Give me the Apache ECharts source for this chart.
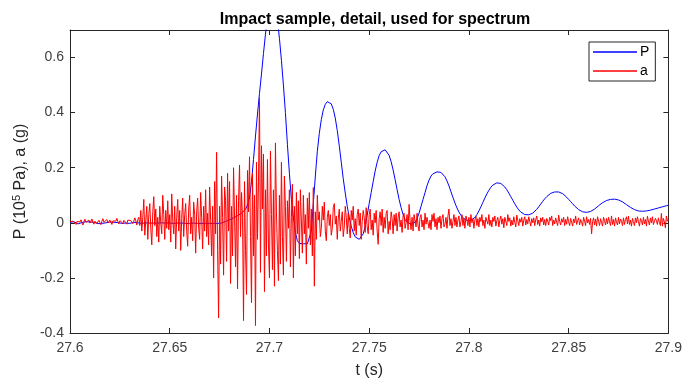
<!DOCTYPE html>
<html>
<head>
<meta charset="utf-8">
<script src="https://cdn.jsdelivr.net/npm/echarts@6/dist/echarts.min.js"></script>
<style>
html,body{margin:0;padding:0;background:#fff;}
#chart{width:685px;height:384px;}
</style>
</head>
<body>
<div id="chart"></div>
<script>
// ---- data ----
var titleText = 'Impact sample, detail, used for spectrum';
var xTicks = [27.6, 27.65, 27.7, 27.75, 27.8, 27.85, 27.9];
var yTicks = [-0.4, -0.2, 0, 0.2, 0.4, 0.6];
var xRange = [27.6, 27.9];
var yRange = [-0.4, 0.7];

// P: pressure, sampled every 1 ms from 27.600 s
var pStart = 27.6, pStep = 0.001;
var pValues = [
 0.002,-0.003,0.004,0.000,-0.004,0.003,0.001,-0.002,0.004,-0.001,
 0.003,-0.004,0.002,0.001,-0.003,0.004,-0.002,0.002,0.000,-0.003,
 0.003,-0.001,0.002,-0.003,0.001,0.003,-0.002,0.001,-0.001,0.002,
 -0.002,0.001,0.002,-0.001,0.000,0.001,-0.002,0.001,0.000,-0.001,
 -0.001,0.000,-0.001,0.000,-0.001,-0.001,0.000,-0.001,-0.001,-0.001,
 -0.001,-0.001,-0.002,-0.001,-0.001,-0.002,-0.001,-0.002,-0.002,-0.001,
 -0.002,-0.002,-0.001,-0.002,-0.002,-0.002,-0.002,-0.001,-0.002,-0.002,
 -0.002,-0.002,-0.002,-0.002,-0.002,-0.001,-0.001,0.002,0.005,0.008,
 0.011,0.014,0.018,0.022,0.026,0.030,0.035,0.041,0.049,0.065,
 0.090,0.150,0.230,0.315,0.395,0.470,0.540,0.615,0.685,0.745,
 0.790,0.810,0.805,0.780,0.735,0.670,0.590,0.500,0.400,0.285,
 0.180,0.085,0.020,-0.035,-0.065,-0.075,-0.076,-0.076,-0.076,-0.076,
 -0.075,-0.030,0.070,0.170,0.260,0.325,0.375,0.410,0.430,0.440,
 0.440,0.432,0.412,0.380,0.335,0.280,0.220,0.160,0.108,0.060,
 0.020,-0.012,-0.036,-0.051,-0.058,-0.060,-0.055,-0.040,-0.012,0.028,
 0.070,0.110,0.150,0.188,0.220,0.244,0.258,0.265,0.265,0.259,
 0.245,0.222,0.192,0.157,0.120,0.085,0.055,0.030,0.012,0.002,
 -0.003,-0.005,-0.004,0.002,0.015,0.035,0.060,0.085,0.110,0.135,
 0.155,0.170,0.178,0.183,0.185,0.185,0.183,0.177,0.167,0.152,
 0.134,0.113,0.092,0.072,0.054,0.039,0.027,0.018,0.012,0.009,
 0.008,0.009,0.013,0.020,0.030,0.043,0.058,0.074,0.090,0.105,
 0.118,0.129,0.137,0.142,0.145,0.145,0.143,0.138,0.130,0.120,
 0.108,0.095,0.082,0.069,0.057,0.047,0.039,0.033,0.030,0.029,
 0.029,0.031,0.035,0.041,0.049,0.058,0.068,0.078,0.087,0.095,
 0.102,0.107,0.110,0.112,0.113,0.112,0.110,0.106,0.100,0.093,
 0.085,0.077,0.069,0.061,0.054,0.048,0.043,0.040,0.038,0.038,
 0.039,0.041,0.045,0.050,0.056,0.062,0.068,0.073,0.078,0.081,
 0.084,0.085,0.086,0.086,0.085,0.083,0.080,0.076,0.071,0.066,
 0.061,0.056,0.052,0.048,0.045,0.043,0.042,0.042,0.042,0.043,
 0.044,0.046,0.048,0.050,0.052,0.054,0.056,0.058,0.060,0.062,
 0.064
];

// a: acceleration, sampled every 0.5 ms from 27.600 s
var aStart = 27.6, aStep = 0.0005;
var aValues = [
 0.004,0.010,-0.003,0.006,0.012,0.001,-0.006,0.005,0.009,-0.002,
 0.003,0.011,0.000,-0.008,0.004,0.013,0.002,-0.004,0.007,0.010,
 -0.001,0.005,0.014,0.003,-0.005,0.006,0.011,-0.002,0.004,0.009,
 0.001,-0.007,0.006,0.015,0.002,-0.003,0.008,0.012,-0.001,0.005,
 0.010,0.003,-0.006,0.007,0.013,0.000,0.006,0.016,0.004,-0.004,
 0.008,0.012,0.002,-0.002,0.009,0.014,0.005,-0.005,0.010,0.017,
 0.003,0.008,0.015,-0.003,0.006,0.018,0.007,-0.008,0.012,0.020,
 -0.010,0.045,-0.030,0.020,0.085,-0.045,0.010,0.060,-0.060,0.030,
 0.070,-0.020,-0.080,0.040,0.095,-0.010,0.050,-0.050,0.020,-0.070,
 0.060,0.000,-0.040,0.100,0.030,-0.060,0.045,-0.020,0.080,-0.025,
 0.030,-0.070,0.105,0.010,-0.040,0.060,-0.095,0.020,0.085,-0.030,
 0.045,-0.100,0.015,0.090,-0.050,0.030,0.070,-0.030,-0.085,0.050,
 0.100,-0.040,0.020,-0.065,0.075,0.030,-0.110,0.040,0.090,-0.020,
 -0.060,0.110,0.020,-0.095,0.060,-0.030,0.120,-0.050,0.035,-0.080,
 0.130,0.010,-0.120,0.060,-0.200,0.150,-0.040,0.256,-0.100,-0.345,
 0.060,-0.150,0.170,0.020,-0.190,0.130,0.080,-0.140,0.180,-0.030,
 0.150,-0.220,0.060,-0.120,0.200,0.020,-0.160,0.100,-0.240,0.080,
 0.210,-0.050,0.110,0.020,-0.355,0.150,-0.100,-0.260,0.190,0.040,
 0.240,-0.050,-0.290,0.180,-0.120,0.100,-0.373,0.220,-0.060,0.150,
 0.454,-0.180,0.280,0.050,0.250,-0.250,0.120,-0.120,0.230,-0.080,
 -0.200,0.260,0.030,-0.170,0.120,-0.230,0.290,0.040,-0.100,-0.210,
 0.100,-0.150,0.220,-0.050,-0.190,0.170,0.060,-0.140,0.080,-0.020,
 0.120,-0.160,0.020,0.140,-0.200,0.060,-0.120,0.110,-0.040,0.080,
 -0.130,0.120,0.010,-0.110,0.100,-0.040,0.030,-0.150,0.090,-0.020,
 0.110,-0.080,0.050,-0.120,0.128,-0.230,0.040,-0.060,0.100,0.010,
 0.040,-0.050,-0.020,0.060,0.010,0.075,-0.030,-0.065,0.020,0.045,
 -0.010,0.030,-0.045,-0.020,0.055,0.070,-0.005,0.025,-0.060,0.015,
 0.050,-0.030,0.005,0.040,-0.050,-0.015,0.060,0.020,-0.040,0.035,
 -0.020,-0.055,0.045,0.010,0.060,-0.030,0.015,-0.045,0.030,0.050,
 -0.010,0.035,-0.060,0.005,0.045,0.020,-0.035,0.055,-0.015,-0.040,
 0.030,0.050,-0.025,0.010,-0.045,0.035,0.000,0.045,-0.030,-0.078,
 0.015,0.040,-0.010,0.050,-0.035,0.020,-0.020,0.035,0.045,-0.040,
 0.005,-0.025,0.040,0.015,-0.040,0.030,-0.010,0.035,-0.030,0.020,
 0.040,-0.015,0.010,-0.035,0.025,0.035,-0.020,0.000,0.030,-0.025,
 0.067,0.010,-0.025,0.020,-0.030,0.030,0.005,-0.015,0.035,-0.010,
 -0.030,0.020,0.030,-0.015,0.010,-0.025,0.035,-0.005,0.020,0.025,
 -0.020,0.010,-0.025,0.030,0.005,0.035,-0.015,0.015,-0.025,0.020,
 0.000,0.025,-0.020,0.015,0.030,-0.015,-0.005,0.020,-0.020,0.025,
 0.050,-0.010,0.015,-0.020,0.005,0.030,-0.010,0.020,-0.015,0.010,
 0.025,-0.015,0.005,0.030,-0.010,0.015,-0.020,0.025,0.010,-0.010,
 0.020,-0.015,0.030,0.000,0.015,-0.020,0.010,0.025,-0.010,0.015,
 -0.015,0.020,0.005,0.030,-0.010,0.010,-0.020,0.020,0.015,-0.005,
 0.030,-0.010,0.010,-0.015,0.020,0.005,0.025,-0.012,0.008,0.020,
 -0.015,0.010,0.025,-0.005,0.015,-0.018,0.020,0.005,-0.010,0.030,
 0.005,0.018,-0.012,0.010,-0.008,0.022,0.002,-0.015,0.028,0.008,
 -0.010,0.015,0.002,0.020,-0.012,0.010,0.022,-0.008,0.012,-0.004,
 0.022,0.005,-0.012,0.015,0.000,0.018,-0.010,0.012,0.025,-0.006,
 0.010,-0.012,0.018,0.004,0.020,-0.008,0.012,-0.010,0.016,0.006,
 -0.008,0.020,0.008,0.025,-0.010,0.010,-0.004,0.018,0.002,-0.010,
 0.028,0.005,-0.008,0.015,0.002,0.020,-0.010,0.012,-0.005,0.022,
 0.004,-0.010,0.016,0.010,-0.012,0.014,0.000,0.025,-0.006,0.008,
 0.018,-0.008,0.012,0.002,-0.012,0.020,0.006,-0.010,0.022,0.000,
 0.012,-0.006,0.016,-0.040,0.004,0.018,-0.008,0.014,-0.012,0.022,
 0.006,-0.010,0.015,0.002,-0.012,0.020,0.008,-0.008,0.016,-0.004,
 0.020,0.004,-0.010,0.025,-0.006,0.012,-0.012,0.018,0.002,-0.008,
 0.020,-0.004,0.014,0.006,-0.010,0.018,-0.006,0.012,0.022,-0.004,
 0.024,-0.006,0.010,-0.012,0.016,0.004,-0.010,0.018,0.000,0.022,
 0.004,-0.012,0.016,0.008,-0.008,0.020,-0.004,0.012,-0.012,0.024,
 0.006,-0.008,0.018,0.000,0.022,-0.006,-0.012,0.016,0.008,-0.006,
 0.018,0.002,-0.010,0.034,-0.012,0.016,0.004,-0.018,0.025,0.006,
 0.012
];

// ---- build ----
function pairs(start, step, vals) {
  return vals.map(function (v, i) { return [start + i * step, v]; });
}
var FONT = "'Liberation Sans', Arial, Helvetica, sans-serif";
var AX = '#262626';
function fmtX(v) { return String(parseFloat(v.toFixed(2))); }
function fmtY(v) { return String(parseFloat(v.toFixed(1))); }

var chart = echarts.init(document.getElementById('chart'), null, {renderer: 'canvas'});
var baseX = {
  type: 'value', min: xRange[0], max: xRange[1], interval: xTicks[1] - xTicks[0],
  splitLine: {show: false},
  axisLine: {show: true, onZero: false, lineStyle: {color: AX, width: 1}},
  axisTick: {show: true, inside: true, length: 5, lineStyle: {color: AX}}
};
var baseY = {
  type: 'value', min: yRange[0], max: yRange[1], interval: yTicks[1] - yTicks[0],
  splitLine: {show: false},
  axisLine: {show: true, onZero: false, lineStyle: {color: AX, width: 1}},
  axisTick: {show: true, inside: true, length: 5, lineStyle: {color: AX}}
};

chart.setOption({
  animation: false,
  backgroundColor: '#fff',
  title: {
    text: titleText, left: 370, top: 7, textAlign: 'center',
    textStyle: {fontFamily: FONT, fontSize: 16, fontWeight: 'bold', color: '#000'}
  },
  grid: {left: 70, right: 15, top: 30, bottom: 50, containLabel: false},
  legend: {
    orient: 'vertical', left: 589, top: 42,
    itemWidth: 44, itemHeight: 1.5, itemGap: 5,
    padding: [3, 6, 3, 4],
    backgroundColor: '#fff', borderColor: AX, borderWidth: 1, borderRadius: 0,
    textStyle: {fontFamily: FONT, fontSize: 14, color: '#000', padding: [0, 0, 0, -2]},
    data: [{name: 'P', icon: 'rect'}, {name: 'a', icon: 'rect'}]
  },
  xAxis: [
    Object.assign({}, baseX, {
      position: 'bottom',
      name: 't (s)', nameLocation: 'middle', nameGap: 30,
      nameTextStyle: {fontFamily: FONT, fontSize: 16, color: AX},
      axisLabel: {show: true, margin: 8, fontFamily: FONT, fontSize: 14, color: '#404040', formatter: fmtX}
    }),
    Object.assign({}, baseX, {position: 'top', axisLabel: {show: false}})
  ],
  yAxis: [
    Object.assign({}, baseY, {
      position: 'left',
      name: 'P (10{sup|5} Pa), a (g)', nameLocation: 'middle', nameGap: 29,
      nameTextStyle: {fontFamily: FONT, fontSize: 16, color: AX,
        rich: {sup: {fontFamily: FONT, fontSize: 11, color: AX, verticalAlign: 'top', padding: [0, 0, 8, 0]}}},
      axisLabel: {show: true, margin: 6, fontFamily: FONT, fontSize: 14, color: '#404040',
        formatter: fmtY, showMaxLabel: false}
    }),
    Object.assign({}, baseY, {position: 'right', axisLabel: {show: false}})
  ],
  series: [
    {
      name: 'P', type: 'line', xAxisIndex: 0, yAxisIndex: 0,
      data: pairs(pStart, pStep, pValues),
      showSymbol: false, symbol: 'none', clip: true,
      lineStyle: {color: '#0000ff', width: 1}, itemStyle: {color: '#0000ff'}
    },
    {
      name: 'a', type: 'line', xAxisIndex: 0, yAxisIndex: 0,
      data: pairs(aStart, aStep, aValues),
      showSymbol: false, symbol: 'none', clip: true,
      lineStyle: {color: '#ff0000', width: 1}, itemStyle: {color: '#ff0000'}
    }
  ]
});
</script>
</body>
</html>
